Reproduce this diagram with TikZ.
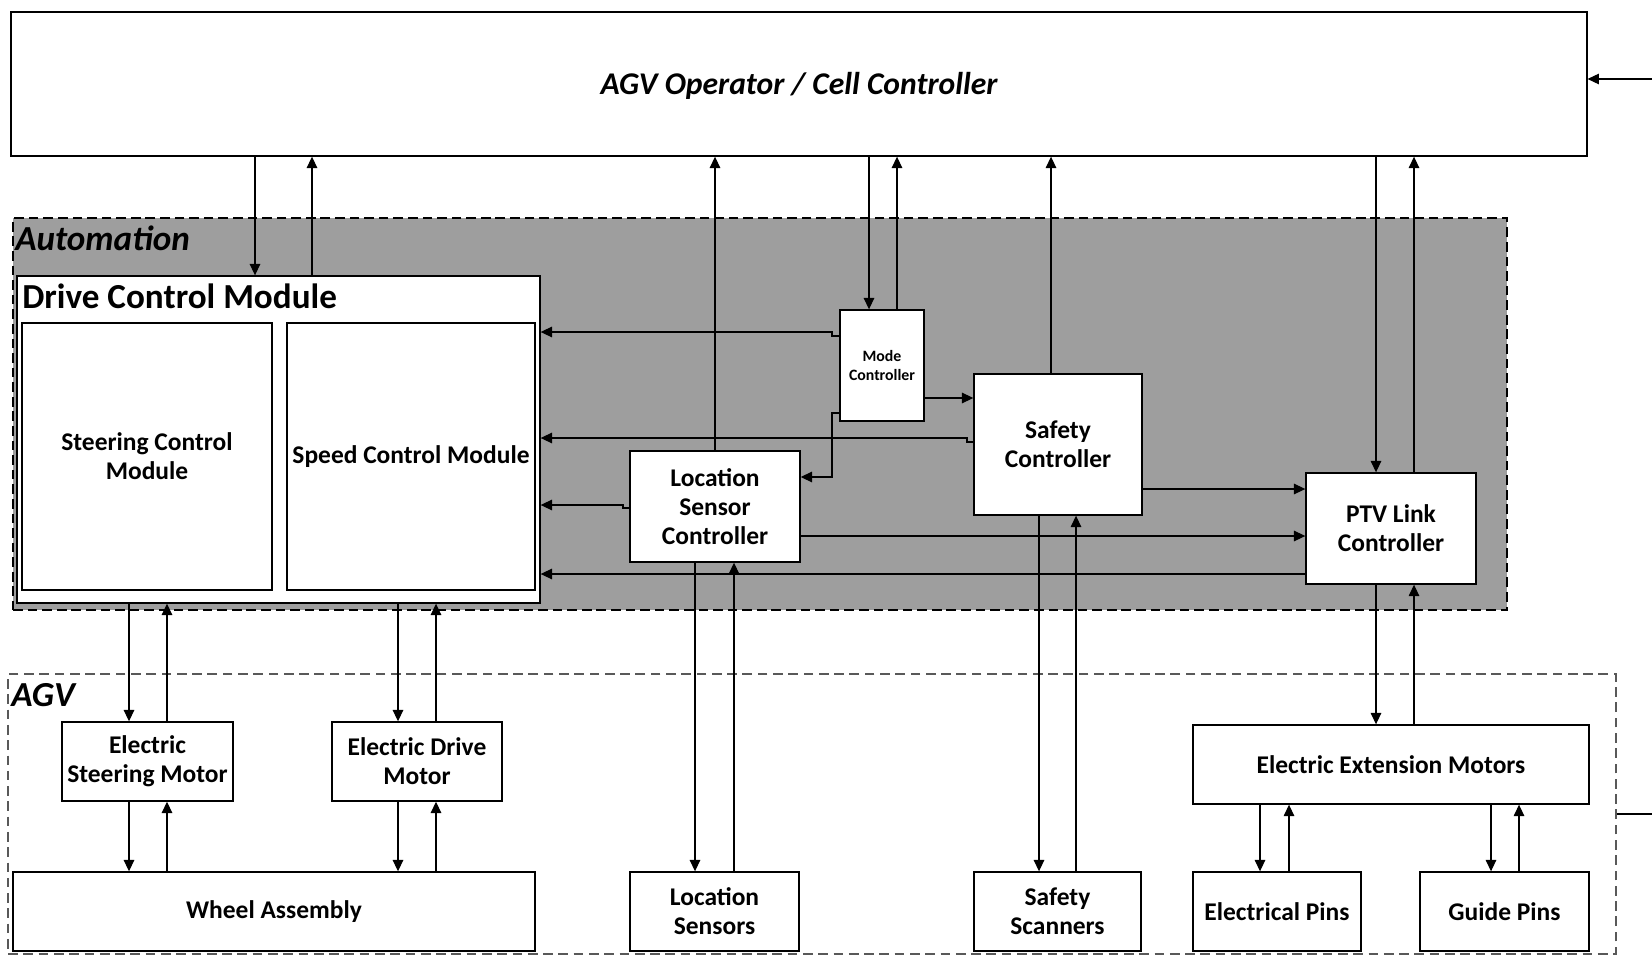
\documentclass[tikz,border=0pt]{standalone}
\usepackage{fontspec}
\setmainfont{Carlito}
\usetikzlibrary{arrows.meta}

\begin{document}
\begin{tikzpicture}[x=0.02cm, y=-0.02cm, >={Triangle[length=6.5pt,width=6pt]},
	box/.style={draw, fill=white, line width=0.8pt, align=center, inner sep=2pt, font=\bfseries\fontsize{14.5}{16.5}\selectfont},
	title/.style={anchor=base west, inner sep=0pt, font=\bfseries\fontsize{20}{24}\selectfont},
	link/.style={->, line width=0.7pt}]
	\useasboundingbox[fill=white] (0,0) rectangle (1652,956);
	\node[draw, fill=black!38, line width=0.8pt, dash pattern=on 5.5pt off 2.8pt, minimum width=29.88cm, minimum height=7.84cm, inner sep=0pt] (auto) at (760,414) {};
	\node[title, font=\bfseries\itshape\fontsize{20}{24}\selectfont] (autolab) at (15,251) {Automation};
	\node[draw=black!65, line width=0.8pt, dash pattern=on 5.5pt off 3.2pt, minimum width=32.16cm, minimum height=5.6cm, inner sep=0pt] (agv) at (812,814) {};
	\node[title, font=\bfseries\itshape\fontsize{20}{24}\selectfont] (agvlab) at (11,706) {AGV};
	\node[box, minimum width=31.52cm, minimum height=2.88cm, font=\bfseries\itshape\fontsize{18}{22}\selectfont, text height=15.5pt, text depth=3.5pt] (ctrl) at (799,84) {AGV Operator / Cell Controller};
	\node[box, minimum width=10.46cm, minimum height=6.54cm] (dcm) at (278.5,439.5) {};
	\node[title] (dcmlab) at (22,308) {Drive Control Module};
	\node[box, minimum width=5cm, minimum height=5.34cm] (steer) at (147,456.5) {Steering Control\\Module};
	\node[box, minimum width=4.96cm, minimum height=5.34cm] (speed) at (411,456.5) {Speed Control Module};
	\node[box, minimum width=1.68cm, minimum height=2.22cm, font=\bfseries\fontsize{9}{11}\selectfont] (mode) at (882,365.5) {Mode\\Controller};
	\node[box, minimum width=3.36cm, minimum height=2.82cm] (safe) at (1058,444.5) {Safety\\Controller};
	\node[box, minimum width=3.4cm, minimum height=2.22cm] (locctl) at (715,506.5) {Location\\Sensor\\Controller};
	\node[box, minimum width=3.4cm, minimum height=2.22cm] (ptv) at (1391,528.5) {PTV Link\\Controller};
	\node[box, minimum width=3.42cm, minimum height=1.58cm] (esm) at (147.5,761.5) {Electric\\Steering Motor};
	\node[box, minimum width=3.4cm, minimum height=1.58cm] (edm) at (417,761.5) {Electric Drive\\Motor};
	\node[box, minimum width=10.44cm, minimum height=1.58cm] (wheel) at (274,911.5) {Wheel Assembly};
	\node[box, minimum width=3.38cm, minimum height=1.58cm] (locsens) at (714.5,911.5) {Location\\Sensors};
	\node[box, minimum width=3.34cm, minimum height=1.58cm] (scan) at (1057.5,911.5) {Safety\\Scanners};
	\node[box, minimum width=7.92cm, minimum height=1.58cm] (extm) at (1391,764.5) {Electric Extension Motors};
	\node[box, minimum width=3.36cm, minimum height=1.58cm] (epins) at (1277,911.5) {Electrical Pins};
	\node[box, minimum width=3.38cm, minimum height=1.58cm] (gpins) at (1504.5,911.5) {Guide Pins};
	\coordinate (fbin) at (1652,79);
	\coordinate (fbout) at (1652,814);
	\foreach \a/\b/\x in {ctrl/dcm/255, ctrl/mode/869, ctrl/ptv/1376, dcm/esm/129, dcm/edm/398, esm/wheel/129, edm/wheel/398, locctl/locsens/695, safe/scan/1039, ptv/extm/1376, extm/epins/1260, extm/gpins/1491}
		{\draw[link] (\x,0 |- \a.south) -- (\x,0 |- \b.north);}
	\foreach \a/\b/\x in {dcm/ctrl/312, locctl/ctrl/715, mode/ctrl/897, safe/ctrl/1051, ptv/ctrl/1414, esm/dcm/167, edm/dcm/436, wheel/esm/167, wheel/edm/436, locsens/locctl/734, scan/safe/1076, extm/ptv/1414, epins/extm/1289, gpins/extm/1519}
		{\draw[link] (\x,0 |- \a.north) -- (\x,0 |- \b.south);}
	\draw[link] (mode.west |- 0,336) -- (832,336) -- (832,332) -- (dcm.east |- 0,332);
	\draw[link] (mode.east |- 0,398) -- (safe.west |- 0,398);
	\draw[link] (mode.west |- 0,413) -- (832,413) |- (locctl.east |- 0,477);
	\draw[link] (safe.west |- 0,442) -- (967,442) -- (967,438) -- (dcm.east |- 0,438);
	\draw[link] (locctl.west |- 0,508) -- (623,508) -- (623,505) -- (dcm.east |- 0,505);
	\draw[link] (ptv.west |- 0,574) -- (dcm.east |- 0,574);
	\draw[link] (safe.east |- 0,489) -- (ptv.west |- 0,489);
	\draw[link] (locctl.east |- 0,536) -- (ptv.west |- 0,536);
	\draw[link] (fbin) -- (ctrl.east |- fbin);
	\draw[line width=0.7pt] (agv.east |- fbout) -- (fbout);
\end{tikzpicture}
\end{document}
